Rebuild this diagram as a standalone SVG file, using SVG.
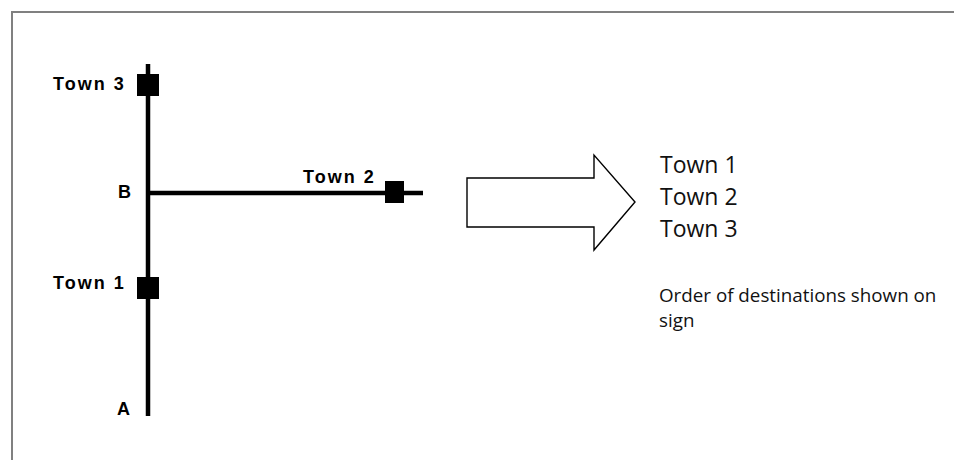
<svg xmlns="http://www.w3.org/2000/svg" width="954" height="460" viewBox="0 0 954 460">
<style>
.road{stroke:#000;stroke-width:4.5;fill:none}
.town{fill:#000}
.lbl{font-family:"Liberation Sans",Arial,sans-serif;font-weight:bold;font-size:18px;letter-spacing:2px;fill:#000}
.list{font-family:"Open Sans","Noto Sans",sans-serif;font-size:23px;fill:#111}
.note{font-family:"Open Sans","Noto Sans",sans-serif;font-size:18.8px;fill:#111}
</style>
<rect width="954" height="460" fill="#fff"/>
<path d="M12 470 V12 H960" fill="none" stroke="#808080" stroke-width="2"/>
<g id="connectors">
<line class="road" x1="148" y1="64" x2="148" y2="416"/>
<line class="road" x1="148" y1="193" x2="423" y2="193"/>
</g>
<g id="town3"><rect class="town" x="137" y="74" width="22" height="22"/><text class="lbl" x="53" y="90">Town 3</text></g>
<g id="town2"><rect class="town" x="385" y="181" width="19" height="22"/><text class="lbl" x="303" y="183">Town 2</text></g>
<g id="town1"><rect class="town" x="137" y="277" width="22" height="22"/><text class="lbl" x="53" y="289">Town 1</text></g>
<g id="pointB"><text class="lbl" x="118" y="198">B</text></g>
<g id="pointA"><text class="lbl" x="117" y="415">A</text></g>
<g id="arrow"><polygon points="467,178 594,178 594,155 635,202 594,250 594,227 467,227" fill="#fff" stroke="#000" stroke-width="1.4"/></g>
<g id="signlist">
<text class="list" x="660" y="173">Town 1</text>
<text class="list" x="660" y="205">Town 2</text>
<text class="list" x="660" y="237">Town 3</text>
</g>
<g id="note">
<text class="note" x="659" y="302">Order of destinations shown on</text>
<text class="note" x="659" y="327">sign</text>
</g>
</svg>
